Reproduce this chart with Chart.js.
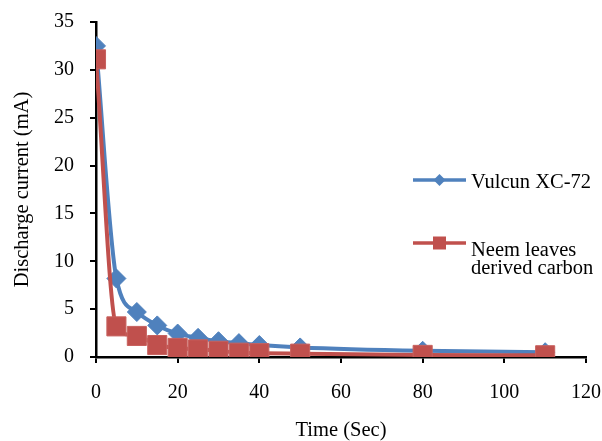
<!DOCTYPE html>
<html>
<head>
<meta charset="utf-8">
<script src="https://cdn.jsdelivr.net/npm/chart.js@4/dist/chart.umd.min.js"></script>
<style>
  html, body { margin: 0; padding: 0; background: #fff; }
  #wrap { width: 602px; height: 441px; }
</style>
</head>
<body>
<div id="wrap"><canvas id="myChart" width="602" height="441"></canvas></div>
<script>
const times = [0, 5, 10, 15, 20, 25, 30, 35, 40, 50, 80, 110];
const vulcun = [32.5, 8.2, 4.7, 3.3, 2.45, 2.0, 1.65, 1.45, 1.25, 1.0, 0.65, 0.5];
const neem = [31.1, 3.2, 2.2, 1.25, 0.95, 0.8, 0.65, 0.45, 0.4, 0.35, 0.22, 0.18];
const yTicks = [0, 5, 10, 15, 20, 25, 30, 35];
const xTicks = [0, 20, 40, 60, 80, 100, 120];
const seriesNames = ['Vulcun XC-72', ['Neem leaves', 'derived carbon']];

const blue = '#4F81BD';
const red = '#C0504D';

Chart.defaults.font.family = '"Liberation Serif", "Times New Roman", serif';
Chart.defaults.font.size = 20;
Chart.defaults.color = '#000';

const toPoints = (ys) => ys.map((y, i) => ({ x: times[i], y: y }));

// legend drawn inside the plot, like the original
const sideLegend = {
  id: 'sideLegend',
  afterDraw(chart) {
    const c = chart.ctx;
    const rows = [
      { color: blue, shape: 'diamond', y: 180, lines: [seriesNames[0]], base: [188] },
      { color: red, shape: 'square', y: 243, lines: seriesNames[1], base: [256, 274] }
    ];
    c.save();
    rows.forEach(r => {
      c.strokeStyle = r.color;
      c.lineWidth = 3.5;
      c.beginPath();
      c.moveTo(413, r.y);
      c.lineTo(466, r.y);
      c.stroke();
      c.fillStyle = r.color;
      c.beginPath();
      if (r.shape === 'diamond') {
        c.moveTo(439.5, r.y - 6);
        c.lineTo(445.5, r.y);
        c.lineTo(439.5, r.y + 6);
        c.lineTo(433.5, r.y);
        c.closePath();
      } else {
        c.rect(433, r.y - 6.5, 13, 13);
      }
      c.fill();
      c.fillStyle = '#000';
      c.font = '20.5px "Liberation Serif", serif';
      c.textBaseline = 'alphabetic';
      r.lines.forEach((t, i) => c.fillText(t, 471, r.base[i]));
    });
    c.restore();
  }
};

new Chart(document.getElementById('myChart'), {
  type: 'line',
  data: {
    datasets: [{
      label: seriesNames[0],
      data: toPoints(vulcun),
      borderColor: blue,
      backgroundColor: blue,
      borderWidth: 4,
      pointStyle: 'rectRot',
      pointRadius: 9.5,
      pointBorderWidth: 1,
      pointBorderColor: blue,
      cubicInterpolationMode: 'monotone',
      order: 1
    }, {
      label: 'Neem leaves derived carbon',
      data: toPoints(neem),
      borderColor: red,
      backgroundColor: red,
      borderWidth: 4,
      pointStyle: 'rect',
      pointRadius: 13.5,
      pointBorderWidth: 1,
      pointBorderColor: '#c8615e',
      cubicInterpolationMode: 'monotone',
      order: 0
    }]
  },
  options: {
    responsive: false,
    animation: false,
    layout: { padding: { left: 0, top: 22, right: 0, bottom: 0 } },
    plugins: {
      legend: { display: false },
      tooltip: { enabled: false }
    },
    scales: {
      x: {
        type: 'linear',
        min: 0,
        max: 120,
        afterBuildTicks: (s) => { s.ticks = xTicks.map(v => ({ value: v })); },
        afterFit: (s) => { s.height = 84; s.paddingLeft = 0; s.paddingRight = 16; },
        grid: { drawOnChartArea: false, drawTicks: true, tickLength: 6, color: '#000', lineWidth: 2 },
        border: { color: '#000', width: 2.5 },
        ticks: { padding: 18 },
        title: { display: true, text: 'Time (Sec)', font: { size: 20.5, lineHeight: 1 }, padding: { top: 0, bottom: 0 } }
      },
      y: {
        min: 0,
        max: 35,
        afterBuildTicks: (s) => { s.ticks = yTicks.map(v => ({ value: v })); },
        afterFit: (s) => { s.width = 96; s.paddingTop = 0; s.paddingBottom = 0; },
        grid: { drawOnChartArea: false, drawTicks: true, tickLength: 6, color: '#000', lineWidth: 2 },
        border: { color: '#000', width: 2.5 },
        ticks: { padding: 16 },
        title: { display: true, text: 'Discharge current (mA)', font: { size: 20.5 }, padding: { top: 10, bottom: 4 } }
      }
    }
  },
  plugins: [sideLegend]
});
</script>
</body>
</html>
